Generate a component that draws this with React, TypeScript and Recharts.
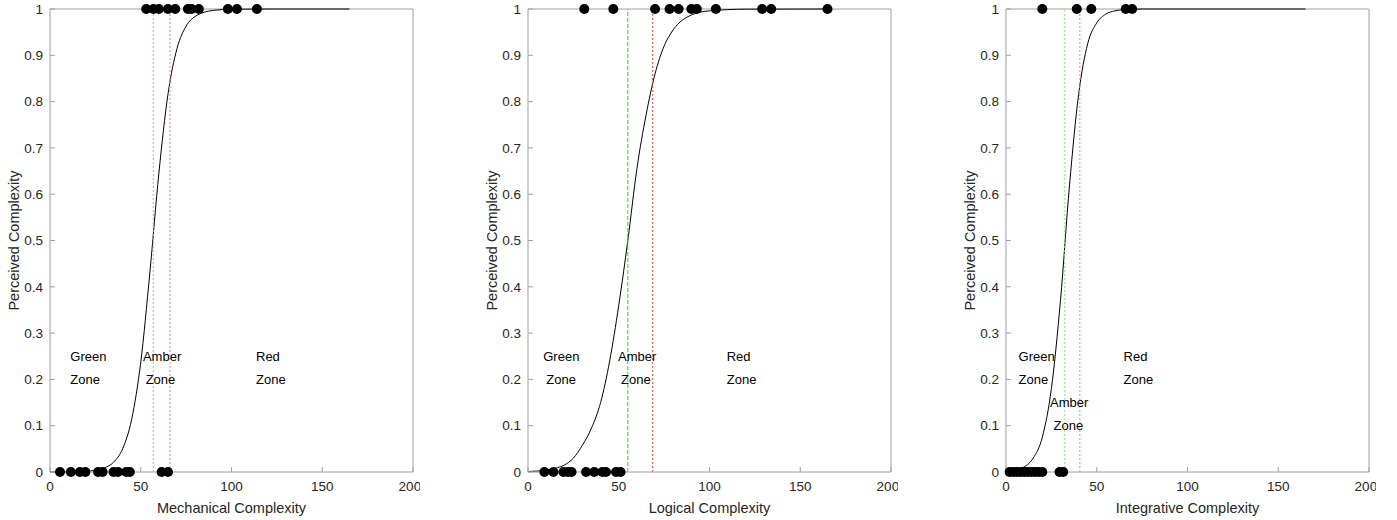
import {
  ComposedChart,
  Line,
  ReferenceDot,
  ReferenceLine,
  Scatter,
  XAxis,
  YAxis,
} from 'recharts';

const AXIS = '#a0a0a0';
const TEXT = '#262626';
const FONT = '"Liberation Sans", Arial, sans-serif';

const X_TICKS = [0, 50, 100, 150, 200];
const Y_TICKS = [0, 0.1, 0.2, 0.3, 0.4, 0.5, 0.6, 0.7, 0.8, 0.9, 1];

// fitted curve sampled at these x positions
const CURVE_X = [0, 5, 10, 15, 20, 25, 30, 35, 40, 45, 50, 55, 60, 65, 70, 75, 80, 90, 100, 120, 165];
const MECH_CURVE = [0, 0.0001, 0.0003, 0.0006, 0.0015, 0.004, 0.009, 0.021, 0.05, 0.114, 0.237, 0.43, 0.646, 0.816, 0.915, 0.963, 0.984, 0.997, 0.9995, 1, 1];
const LOGIC_CURVE = [0.001, 0.002, 0.004, 0.008, 0.015, 0.03, 0.058, 0.095, 0.15, 0.24, 0.36, 0.5, 0.655, 0.77, 0.86, 0.92, 0.955, 0.987, 0.996, 0.9996, 1];
const INTEG_CURVE = [0.0015, 0.004, 0.011, 0.03, 0.075, 0.18, 0.37, 0.62, 0.815, 0.925, 0.97, 0.989, 0.996, 0.9985, 0.9995, 1, 1, 1, 1, 1, 1];

// observations: perceived complex (1) and not complex (0)
const MECH_HIGH = [53, 57, 60, 65, 69, 76, 78, 82, 98, 103, 114];
const MECH_LOW = [5.5, 11.5, 16.5, 19.5, 26.5, 29, 35, 37.5, 42, 44, 61.5, 65];
const LOGIC_HIGH = [31, 47, 70, 78, 83, 90, 93, 103.5, 129, 134, 165];
const LOGIC_LOW = [9, 14, 19.5, 22, 24, 32, 36.5, 41, 43, 48.5, 51];
const INTEG_HIGH = [20, 39, 47, 66, 69.5];
const INTEG_LOW = [2, 4, 6, 8, 10, 12, 14, 16, 18, 20, 29.5, 31.5];

// zone thresholds
const MECH_LINES = [56.9, 66.1];
const LOGIC_LINES = [55, 68.7];
const INTEG_LINES = [32.4, 40.7];

type Lbl = { text: string; x: number; y: number };
const MECH_LABELS: Lbl[] = [
  { text: 'Green', x: 11.2, y: 0.25 },
  { text: 'Zone', x: 11.2, y: 0.2 },
  { text: 'Amber', x: 51.2, y: 0.25 },
  { text: 'Zone', x: 52.7, y: 0.2 },
  { text: 'Red', x: 113.5, y: 0.25 },
  { text: 'Zone', x: 113.5, y: 0.2 },
];
const LOGIC_LABELS: Lbl[] = [
  { text: 'Green', x: 8.4, y: 0.25 },
  { text: 'Zone', x: 10.1, y: 0.2 },
  { text: 'Amber', x: 49.6, y: 0.25 },
  { text: 'Zone', x: 51.3, y: 0.2 },
  { text: 'Red', x: 109.5, y: 0.25 },
  { text: 'Zone', x: 109.5, y: 0.2 },
];
const INTEG_LABELS: Lbl[] = [
  { text: 'Green', x: 6.9, y: 0.25 },
  { text: 'Zone', x: 6.9, y: 0.2 },
  { text: 'Amber', x: 24.3, y: 0.15 },
  { text: 'Zone', x: 26.2, y: 0.1 },
  { text: 'Red', x: 64.8, y: 0.25 },
  { text: 'Zone', x: 64.8, y: 0.2 },
];

type PanelProps = {
  left: number;
  xLabel: string;
  curve: number[];
  high: number[];
  low: number[];
  lines: number[];
  labels: Lbl[];
  green: string;
  red: string;
  greenDash: string;
};

const dot = (p: any) => <circle cx={p.cx} cy={p.cy} r={5} fill="#000" />;
const none = () => <g />;

function Panel({ left, xLabel, curve, high, low, lines, labels, green, red, greenDash }: PanelProps) {
  const curveData = CURVE_X.map((x, i) => ({ x, y: curve[i] }));
  const pts = [...low.map((x) => ({ x, y: 0 })), ...high.map((x) => ({ x, y: 1 }))];
  const tickStyle = { fill: TEXT, fontSize: 13.5, fontFamily: FONT };
  return (
    <div style={{ position: 'absolute', left, top: 0 }}>
      <ComposedChart width={420} height={520} margin={{ top: 9, right: 7, bottom: 0, left: 0 }}>
        <XAxis
          dataKey="x"
          type="number"
          domain={[0, 200]}
          ticks={X_TICKS}
          stroke={AXIS}
          tick={tickStyle}
          tickSize={-5}
          tickMargin={14}
          height={48}
          label={{ value: xLabel, position: 'insideBottom', offset: 7, style: { fill: TEXT, fontSize: 14.5, fontFamily: FONT } }}
        />
        <XAxis xAxisId="top" orientation="top" dataKey="x" type="number" domain={[0, 200]} ticks={X_TICKS} stroke={AXIS} tick={false} tickSize={-5} height={0} />
        <YAxis
          dataKey="y"
          type="number"
          domain={[0, 1]}
          ticks={Y_TICKS}
          stroke={AXIS}
          tick={tickStyle}
          tickSize={-5}
          tickMargin={12}
          width={50}
          label={{ value: 'Perceived Complexity', angle: -90, position: 'insideLeft', offset: 14, style: { fill: TEXT, fontSize: 14.5, fontFamily: FONT, textAnchor: 'middle' } }}
        />
        <YAxis yAxisId="right" orientation="right" dataKey="y" type="number" domain={[0, 1]} ticks={Y_TICKS} stroke={AXIS} tick={false} tickSize={-5} width={0} />
        <ReferenceLine y={1} stroke={AXIS} />
        <ReferenceLine x={200} stroke={AXIS} />
        <Scatter data={pts} xAxisId="top" yAxisId="right" dataKey="y" shape={none} isAnimationActive={false} />
        <Scatter data={pts} dataKey="y" shape={dot} isAnimationActive={false} />
        <Line data={curveData} dataKey="y" type="monotone" stroke="#000" strokeWidth={1} dot={false} isAnimationActive={false} />
        <ReferenceLine x={lines[0]} stroke={green} strokeDasharray={greenDash} />
        <ReferenceLine x={lines[1]} stroke={red} strokeDasharray="2 2" />
        {labels.map((l, i) => (
          <ReferenceDot
            key={i}
            x={l.x}
            y={l.y}
            ifOverflow="visible"
            shape={(p: any) => (
              <text x={p.cx} y={p.cy} dy="0.35em" fill="#000" fontSize={13} fontFamily={FONT}>
                {l.text}
              </text>
            )}
          />
        ))}
      </ComposedChart>
    </div>
  );
}

export default function App() {
  return (
    <div style={{ position: 'absolute', left: 0, top: 0, width: 1397, height: 520, background: '#fff' }}>
      <Panel left={0} xLabel="Mechanical Complexity" curve={MECH_CURVE} high={MECH_HIGH} low={MECH_LOW} lines={MECH_LINES} labels={MECH_LABELS} green="#70e070" red="#ff8080" greenDash="2 2" />
      <Panel left={478} xLabel="Logical Complexity" curve={LOGIC_CURVE} high={LOGIC_HIGH} low={LOGIC_LOW} lines={LOGIC_LINES} labels={LOGIC_LABELS} green="#22dd22" red="#ff3b3b" greenDash="4 2" />
      <Panel left={956} xLabel="Integrative Complexity" curve={INTEG_CURVE} high={INTEG_HIGH} low={INTEG_LOW} lines={INTEG_LINES} labels={INTEG_LABELS} green="#80e880" red="#ff8080" greenDash="2 2" />
    </div>
  );
}
